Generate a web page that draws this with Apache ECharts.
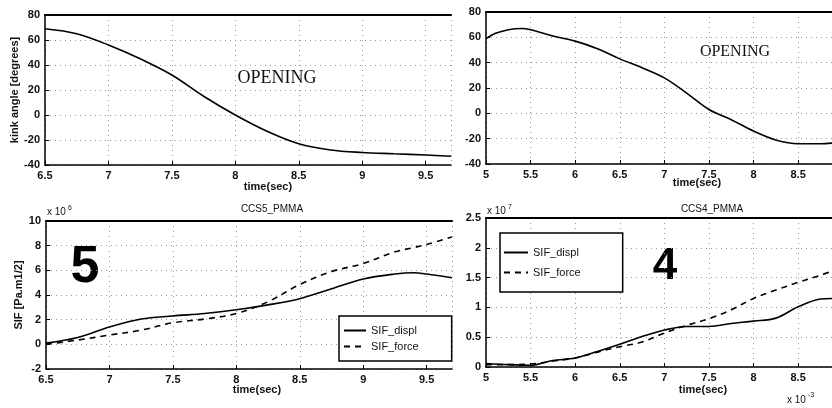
<!DOCTYPE html>
<html><head><meta charset="utf-8">
<script src="https://cdn.jsdelivr.net/npm/echarts/dist/echarts.min.js"></script>
<style>html,body{margin:0;padding:0;background:#fff}#c{width:832px;height:408px}</style>
</head><body><div id="c"></div>
<script>
// Top-left: kink angle, CCS5
const tlTime  = [6.5, 6.75, 7, 7.25, 7.5, 7.75, 8, 8.25, 8.5, 8.75, 9, 9.25, 9.5, 9.7];
const tlAngle = [69, 65, 56, 45, 32, 15, 0, -13, -23, -28, -30, -31, -32, -33];
// Top-right: kink angle, CCS4
const trTime  = [5, 5.1, 5.25, 5.4, 5.5, 5.75, 6, 6.25, 6.5, 6.75, 7, 7.25, 7.5, 7.75, 8, 8.25, 8.5, 8.75, 8.88];
const trAngle = [59, 63, 66, 67, 66, 61, 57, 51, 43, 36, 28, 16, 3, -5, -14, -21, -24, -24, -23.5];
// Bottom-left: SIF (x 10^6), CCS5_PMMA
const blTime  = [6.5, 6.75, 7, 7.25, 7.5, 7.75, 8, 8.25, 8.5, 8.75, 9, 9.25, 9.4, 9.5, 9.7];
const blDispl = [0.1, 0.55, 1.4, 2.05, 2.3, 2.5, 2.8, 3.2, 3.7, 4.5, 5.3, 5.7, 5.8, 5.7, 5.4];
const blForce = [0.0, 0.35, 0.75, 1.15, 1.75, 2.05, 2.5, 3.45, 4.85, 5.9, 6.55, 7.5, 7.85, 8.1, 8.7];
// Bottom-right: SIF (x 10^7), CCS4_PMMA
const brTime  = [5, 5.25, 5.5, 5.75, 6, 6.25, 6.5, 6.75, 7, 7.25, 7.5, 7.75, 8, 8.25, 8.5, 8.75, 8.88];
const brDispl = [0.06, 0.04, 0.03, 0.11, 0.15, 0.26, 0.38, 0.51, 0.62, 0.68, 0.68, 0.73, 0.77, 0.82, 1.01, 1.14, 1.15];
const brForce = [0.04, 0.04, 0.05, 0.10, 0.15, 0.25, 0.34, 0.42, 0.57, 0.70, 0.81, 0.96, 1.15, 1.29, 1.42, 1.54, 1.61];

const titles = ['CCS5_PMMA', 'CCS4_PMMA'];
const legendNames = ['SIF_displ', 'SIF_force'];

const zip = (a, b) => a.map((v, i) => [v, b[i]]);
const FONT = 'Liberation Sans';
const lbl = {color: '#111', fontFamily: FONT, fontSize: 11, fontWeight: 'bold'};
const split = {show: true, lineStyle: {color: '#9a9a9a', type: [1, 4], width: 1}};

const grids = [
  {left: 45, top: 15, width: 406, height: 150},
  {left: 486, top: 12, right: 0, height: 152},
  {left: 46, top: 221, width: 406, height: 148},
  {left: 486, top: 218, right: 0, height: 149}
];
const xr = [[6.5, 9.7], [5, 8.88], [6.5, 9.7], [5, 8.88]];
const yr = [[-40, 80, 20], [-40, 80, 20], [-2, 10, 2], [0, 2.5, 0.5]];

const xAxis = [], yAxis = [];
for (let i = 0; i < 4; i++) {
  xAxis.push({type: 'value', gridIndex: i, min: xr[i][0], max: xr[i][1], interval: 0.5,
    axisLine: {show: true, onZero: false, lineStyle: {color: '#000', width: 1.5}},
    axisTick: {show: true, inside: true, length: 4, lineStyle: {color: '#000'}},
    axisLabel: Object.assign({showMaxLabel: false, margin: 5}, lbl),
    splitLine: split});
}
for (let i = 0; i < 4; i++) {
  xAxis.push({type: 'value', gridIndex: i, position: 'top', min: xr[i][0], max: xr[i][1], interval: 0.5,
    axisLine: {show: true, onZero: false, lineStyle: {color: '#000', width: 2}},
    axisTick: {show: false}, axisLabel: {show: false}, splitLine: {show: false}});
}
const yNames = ['kink angle [degrees]', '', 'SIF [Pa.m1/2]', ''];
for (let i = 0; i < 4; i++) {
  yAxis.push({type: 'value', gridIndex: i, min: yr[i][0], max: yr[i][1], interval: yr[i][2],
    name: yNames[i], nameLocation: 'middle', nameGap: i === 0 ? 24 : 22,
    nameTextStyle: {color: '#111', fontFamily: FONT, fontSize: 11, fontWeight: 'bold'},
    axisLine: {show: true, onZero: false, lineStyle: {color: '#000', width: 1.5}},
    axisTick: {show: true, inside: true, length: 4, lineStyle: {color: '#000'}},
    axisLabel: Object.assign({margin: 5}, lbl),
    splitLine: split});
}

const lineBase = {type: 'line', smooth: 0.35, symbol: 'none', silent: true};
const series = [
  Object.assign({name: 'angle5', xAxisIndex: 0, yAxisIndex: 0, data: zip(tlTime, tlAngle),
    lineStyle: {color: '#000', width: 1.6}}, lineBase),
  Object.assign({name: 'angle4', xAxisIndex: 1, yAxisIndex: 1, data: zip(trTime, trAngle),
    lineStyle: {color: '#000', width: 1.6}}, lineBase),
  Object.assign({name: legendNames[0], xAxisIndex: 2, yAxisIndex: 2, data: zip(blTime, blDispl),
    color: '#000', lineStyle: {color: '#000', width: 1.6}}, lineBase),
  Object.assign({name: legendNames[1], xAxisIndex: 2, yAxisIndex: 2, data: zip(blTime, blForce),
    color: '#000', lineStyle: {color: '#000', width: 1.6, type: [6, 5]}}, lineBase),
  Object.assign({name: legendNames[0], xAxisIndex: 3, yAxisIndex: 3, data: zip(brTime, brDispl),
    color: '#000', lineStyle: {color: '#000', width: 1.6}}, lineBase),
  Object.assign({name: legendNames[1], xAxisIndex: 3, yAxisIndex: 3, data: zip(brTime, brForce),
    color: '#000', lineStyle: {color: '#000', width: 1.6, type: [6, 5]}}, lineBase)
];

const legendBase = {orient: 'vertical', data: legendNames, selectedMode: false,
  backgroundColor: '#fff', borderColor: '#000', borderWidth: 1.5, borderRadius: 0,
  textStyle: {color: '#111', fontFamily: FONT, fontSize: 11},
  itemStyle: {opacity: 0, borderWidth: 0},
  itemHeight: 10};
const legend = [
  Object.assign({}, legendBase, {left: 339, top: 316, itemWidth: 22, itemGap: 5, padding: [9, 33, 9, 4]}),
  Object.assign({}, legendBase, {left: 500, top: 233, itemWidth: 24, itemGap: 9, padding: [14, 42, 14, 3]})
];

const txt = (x, y, s, o) => ({type: 'text', x, y, silent: true,
  style: Object.assign({text: s, fill: '#111', font: 'bold 11px ' + FONT, textAlign: 'left', textVerticalAlign: 'middle'}, o || {})});

const graphic = [
  txt(277, 78, 'OPENING', {font: '18px "Liberation Serif"', textAlign: 'center'}),
  txt(735, 52, 'OPENING', {font: '16px "Liberation Serif"', textAlign: 'center'}),
  txt(85, 268, '5', {font: 'bold 52px ' + FONT, fill: '#000', textAlign: 'center'}),
  txt(665, 267, '4', {font: 'bold 44px ' + FONT, fill: '#000', textAlign: 'center'}),
  txt(268, 187, 'time(sec)', {textAlign: 'center'}),
  txt(697, 183, 'time(sec)', {textAlign: 'center'}),
  txt(257, 390, 'time(sec)', {textAlign: 'center'}),
  txt(703, 390, 'time(sec)', {textAlign: 'center'}),
  txt(47, 212, 'x 10', {font: '10px ' + FONT}),
  txt(68, 208, '6', {font: '7px ' + FONT}),
  txt(487, 211, 'x 10', {font: '10px ' + FONT}),
  txt(508, 207, '7', {font: '7px ' + FONT}),
  txt(787, 400, 'x 10', {font: '10px ' + FONT}),
  txt(808, 395, '-3', {font: '7px ' + FONT})
];

const chart = echarts.init(document.getElementById('c'), null, {renderer: 'canvas'});
chart.setOption({
  animation: false,
  backgroundColor: '#fff',
  title: [
    {text: titles[0], left: 267, top: 199, textAlign: 'center', textStyle: {color: '#111', fontFamily: FONT, fontSize: 10, fontWeight: 'normal'}},
    {text: titles[1], left: 707, top: 199, textAlign: 'center', textStyle: {color: '#111', fontFamily: FONT, fontSize: 10, fontWeight: 'normal'}}
  ],
  grid: grids,
  xAxis, yAxis, series, legend, graphic
});
</script></body></html>
